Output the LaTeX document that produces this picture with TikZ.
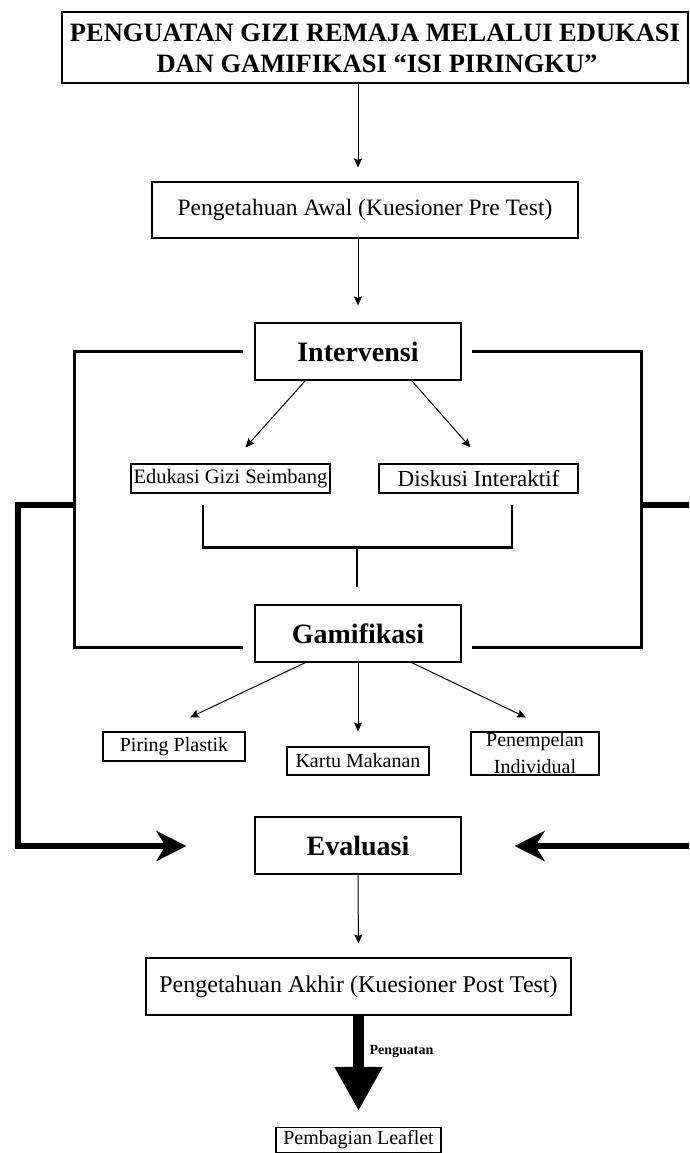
\documentclass[tikz,border=0pt]{standalone}
\usepackage{fontspec}
\setmainfont{Liberation Serif}
\usetikzlibrary{arrows.meta,calc}
\begin{document}
\begin{tikzpicture}[x=1pt,y=-1pt,
  box/.style={draw,line width=1.1pt,inner sep=0pt,align=center},
  arr/.style={line width=1pt,-{Stealth[length=9pt,width=8pt,inset=1.5pt]}},
  frame/.style={line width=3pt},
  thick arr/.style={line width=6pt,-{Stealth[length=30pt,width=30pt,inset=9pt]}},
  fs/.style={font=\fontsize{#1}{#1}\selectfont},
  fb/.style={font=\fontsize{#1}{#1}\selectfont\bfseries}]
\clip (0,0) rectangle (689,1153);
\fill[white] (0,0) rectangle (689,1153);
% nodes
\node[box,minimum width=626pt,minimum height=71pt] (title) at (375,47.5) {};
\node[fb=26.5,align=center] (t1) at (375,33) {PENGUATAN GIZI REMAJA MELALUI EDUKASI};
\node[fb=26.5,align=center] (t2) at (377,64) {DAN GAMIFIKASI “ISI PIRINGKU”};
\node[box,fs=23.5,minimum width=426pt,minimum height=56pt] (pre) at (365,210) {Pengetahuan Awal (Kuesioner Pre Test)};
\node[box,fb=28,minimum width=206pt,minimum height=57pt] (intv) at (358,351.5) {Intervensi};
\node[box,fs=20.5,minimum width=199pt,minimum height=29pt] (eduk) at (230.5,478.5) {Edukasi Gizi Seimbang};
\node[box,fs=23,minimum width=199pt,minimum height=29pt] (disk) at (478.5,478.5) {Diskusi Interaktif};
\node[box,fb=28,minimum width=206pt,minimum height=57pt] (gami) at (358,633.5) {Gamifikasi};
\node[box,fs=20,minimum width=142pt,minimum height=29pt] (piring) at (174,746.5) {Piring Plastik};
\node[box,fs=20,minimum width=142pt,minimum height=28pt] (kartu) at (358,761) {Kartu Makanan};
\node[box,fs=20,minimum width=128pt,minimum height=43pt,text depth=0pt] (temp) at (535,753.5) {};
\node[fs=20] (temp1) at (535,742) {Penempelan};
\node[fs=20] (temp2) at (535,767) {Individual};
\node[box,fb=28,minimum width=206pt,minimum height=57pt] (eval) at (358,845.5) {Evaluasi};
\node[box,fs=24,minimum width=425pt,minimum height=57pt] (post) at (358.5,986.5) {Pengetahuan Akhir (Kuesioner Post Test)};
\node[box,fs=20,minimum width=165pt,minimum height=25pt] (leaf) at (358.5,1140) {Pembagian Leaflet};
% coordinates
\coordinate (lk) at (18,846);
\coordinate (rk) at (700,846);
% arrows
\draw[arr,shorten >=14pt] (title.south -| intv.center) -- (pre.north -| intv.center);
\draw[arr,shorten >=17pt] (pre.south -| intv.center) -- (intv.north);
\draw[arr] ($(intv.south west)+(51,0)$) -- ($(eduk.north)+(15,-16)$);
\draw[arr] ($(intv.south east)+(-50,0)$) -- ($(disk.north)+(-8,-16)$);
% frame
\draw[frame] ($(intv.west)+(-11,0)$) -- (74,351.5) -- (74,647) -- ($(gami.west)+(-11,13.5)$);
\draw[frame] ($(intv.east)+(10,0)$) -- (641,351.5) -- (641,647) -- ($(gami.east)+(10,13.5)$);
% bracket
\draw[line width=2.5pt] ($(eduk.south)+(-27.5,11)$) -- ++(0,43) -| ($(disk.south)+(33.5,11)$);
\draw[line width=2.5pt] (357,547) -- ($(gami.north)+(-1,-17)$);
% gamifikasi arrows
\draw[arr] ($(gami.south west)+(51,0)$) -- ($(piring.north)+(16,-14)$);
\draw[arr] (gami.south) -- ($(kartu.north)+(0,-15)$);
\draw[arr] ($(gami.south east)+(-50,0)$) -- ($(temp.north)+(-9,-14)$);
% thick arrows
\draw[thick arr] (74,505) -- (18,505) -- (lk) -- ($(eval.west)+(-68,0.5)$);
\draw[thick arr] (641,505) -- (700,505) -- (rk) -- ($(eval.east)+(53,0.5)$);
% eval to post
\draw[arr,shorten >=14pt] (eval.south) -- (post.north);
\draw[line width=11pt,-{Triangle[length=44pt,width=45pt]}] (post.south) -- ($(leaf.north)+(0,-16)$);
\node[fb=14,anchor=west] (pg) at (366,1051) {Penguatan};
\end{tikzpicture}
\end{document}
